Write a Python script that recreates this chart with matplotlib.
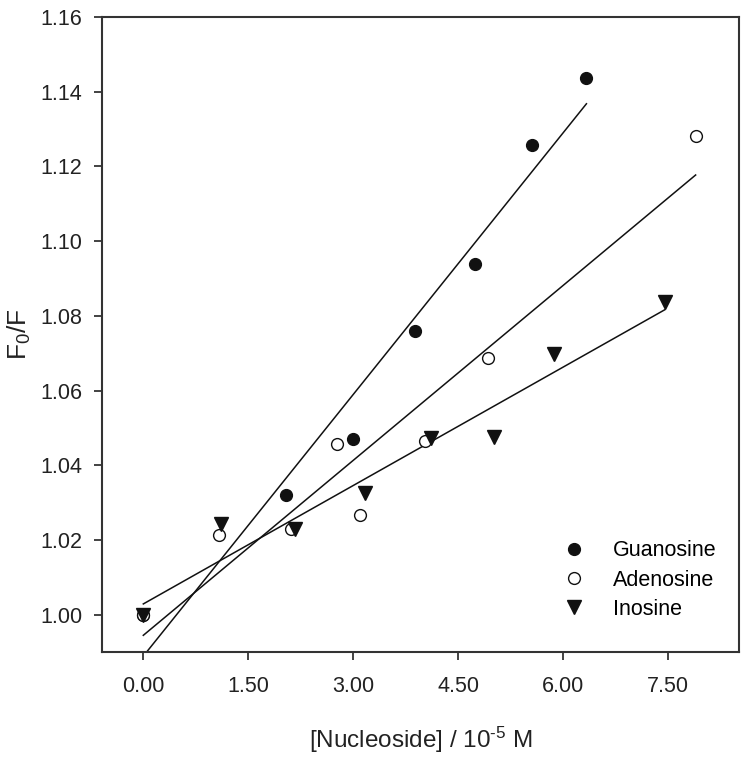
import matplotlib
matplotlib.use("Agg")
import matplotlib.pyplot as plt
import numpy as np

plt.rcParams['font.family'] = ['Liberation Sans', 'DejaVu Sans']
plt.rcParams['mathtext.fontset'] = 'custom'
plt.rcParams['mathtext.rm'] = 'Liberation Sans'
plt.rcParams['mathtext.it'] = 'Liberation Sans:italic'

# data (x in 10^-5 M, y = F0/F)
guo_x = [0.00, 2.04, 2.99, 3.88, 4.74, 5.55, 6.33]
guo_y = [1.000, 1.0321, 1.0470, 1.0760, 1.0940, 1.1258, 1.1438]

ado_x = [0.00, 1.08, 2.11, 2.77, 3.10, 4.03, 4.92, 7.89]
ado_y = [1.000, 1.0213, 1.0230, 1.0457, 1.0268, 1.0465, 1.0688, 1.1282]

ino_x = [0.00, 1.11, 2.16, 3.16, 4.11, 5.01, 5.86, 7.45]
ino_y = [1.000, 1.0243, 1.0230, 1.0325, 1.0472, 1.0475, 1.0698, 1.0838]

x_ticks = [0.0, 1.5, 3.0, 4.5, 6.0, 7.5]
y_ticks = [1.00, 1.02, 1.04, 1.06, 1.08, 1.10, 1.12, 1.14, 1.16]

fig = plt.figure(figsize=(7.49, 7.57), dpi=100)
ax = fig.add_axes([0.1362, 0.1387, 0.8505, 0.8388])

series = [
    (guo_x, guo_y, 'Guanosine', dict(marker='o', markerfacecolor='#111111', markeredgecolor='#111111', markersize=8.5)),
    (ado_x, ado_y, 'Adenosine', dict(marker='o', markerfacecolor='white', markeredgecolor='#111111', markersize=8.5, markeredgewidth=1.0)),
    (ino_x, ino_y, 'Inosine', dict(marker='v', markerfacecolor='#111111', markeredgecolor='#111111', markersize=9.5)),
]

for xs, ys, name, style in series:
    ax.plot(xs, ys, linestyle='none', label=name, zorder=3, **style)
    # linear regression line over the data range
    k, b = np.polyfit(xs, ys, 1)
    xl = np.array([min(xs), max(xs)])
    ax.plot(xl, k * xl + b, color='#111111', linewidth=1.1, zorder=2)

ax.set_xlim(-0.59, 8.51)
ax.set_ylim(0.99, 1.16)
ax.set_xticks(x_ticks)
ax.set_xticklabels(['%.2f' % t for t in x_ticks])
ax.set_yticks(y_ticks)
ax.set_yticklabels(['%.2f' % t for t in y_ticks])
ax.tick_params(direction='out', length=6, width=1.2, labelsize=15.5, colors='#222222')
ax.tick_params(axis='x', pad=11)
ax.tick_params(axis='y', pad=8)

for sp in ax.spines.values():
    sp.set_linewidth(1.5)
    sp.set_color('#333333')

ax.set_xlabel(r'[Nucleoside] / 10$^{\text{-}5}$ M', fontsize=17.5, color='#222222', labelpad=20)
ax.set_ylabel(r'F$_{0}$/F', fontsize=19, color='#222222', labelpad=5)

ax.legend(loc='lower right', bbox_to_anchor=(0.995, 0.02), frameon=False, fontsize=15.5,
          handletextpad=1.3, labelspacing=0.39, handlelength=1.0)

fig.savefig('out.png', dpi=100)
